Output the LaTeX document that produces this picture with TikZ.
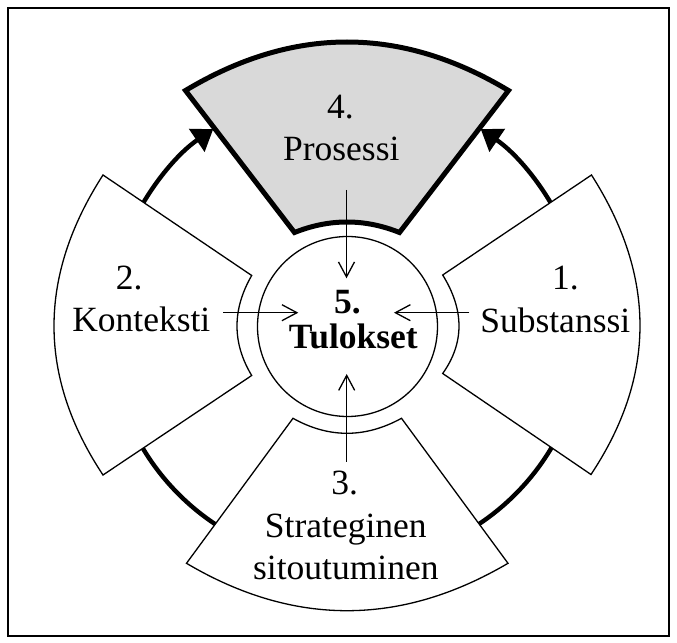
\documentclass[tikz,border=0pt]{standalone}
\usepackage{fontspec}
\setmainfont{Liberation Serif}
\usetikzlibrary{calc,arrows.meta}
\definecolor{procgray}{HTML}{D9D9D9}

% one ring segment: inner edge i1 -> im -> i2, outer edge o2 -> om -> o1
\newcommand{\sectorshape}[2]{%
  \coordinate (#2-iq) at ($2*(#2-im)-0.5*(#2-i1)-0.5*(#2-i2)$);
  \coordinate (#2-oq) at ($2*(#2-om)-0.5*(#2-o1)-0.5*(#2-o2)$);
  \draw[#1] (#2-i1) .. controls ($(#2-i1)!2/3!(#2-iq)$) and ($(#2-i2)!2/3!(#2-iq)$) .. (#2-i2)
    -- (#2-o2) .. controls ($(#2-o2)!2/3!(#2-oq)$) and ($(#2-o1)!2/3!(#2-oq)$) .. (#2-o1)
    -- cycle;
}

\tikzset{
  framebox/.style={draw=black, line width=0.75pt},
  sectorbox/.style={draw=black, fill=white, line width=0.65pt, line join=miter},
  focusbox/.style={draw=black, fill=procgray, line width=2.5pt, line join=miter},
  cycleline/.style={line width=2.2pt},
  cyclearrow/.style={cycleline, -{Triangle[length=10pt,width=13.5pt]}},
  feed/.style={line width=0.65pt, -{Straight Barb[length=7.5pt,width=8pt]}},
  lbl/.style={anchor=base, inner sep=0pt, font=\fontsize{17.75pt}{21pt}\selectfont},
  core/.style={circle, draw=black, line width=0.65pt, minimum size=90pt, inner sep=0pt},
}

\begin{document}
\begin{tikzpicture}[x=0.5pt,y=0.5pt]
\useasboundingbox (-347,-317) rectangle (330,326);

% outer frame
\draw[framebox] (-339,-310) rectangle (322,318);

% cycle ring between the segments
\draw[cyclearrow] (155:238) arc[start angle=155, end angle=124.2, radius=238];
\draw[cyclearrow] (25:238) arc[start angle=25, end angle=55.8, radius=238];
\draw[cycleline] (205:238) arc[start angle=205, end angle=245, radius=238];
\draw[cycleline] (295:238) arc[start angle=295, end angle=335, radius=238];

% left segment
\coordinate (lft-i1) at (-95.3,50.5);
\coordinate (lft-im) at (-110,0);
\coordinate (lft-i2) at (-95.3,-49.5);
\coordinate (lft-o2) at (-244,-149);
\coordinate (lft-om) at (-293,0);
\coordinate (lft-o1) at (-244,151);
\sectorshape{sectorbox}{lft}

% right segment
\coordinate (rgt-i1) at (95.7,51);
\coordinate (rgt-im) at (112,0);
\coordinate (rgt-i2) at (95.7,-47.5);
\coordinate (rgt-o2) at (244,-148.5);
\coordinate (rgt-om) at (293,0);
\coordinate (rgt-o1) at (244.5,151);
\sectorshape{sectorbox}{rgt}

% bottom segment
\coordinate (bot-i1) at (-54,-92.3);
\coordinate (bot-im) at (0,-107.3);
\coordinate (bot-i2) at (54.5,-92.3);
\coordinate (bot-o2) at (161,-237.3);
\coordinate (bot-om) at (0,-284.7);
\coordinate (bot-o1) at (-160.5,-237.3);
\sectorshape{sectorbox}{bot}

% top segment (highlighted)
\coordinate (top-i1) at (-52.5,93.5);
\coordinate (top-im) at (0,104);
\coordinate (top-i2) at (52.5,93.5);
\coordinate (top-o2) at (161.5,235.5);
\coordinate (top-om) at (0,284);
\coordinate (top-o1) at (-161.5,235.5);
\sectorshape{focusbox}{top}

% centre
\node[core] (res) at (0.5,-0.5) {};
\node[lbl] (res-num) at (0.5,12.7) {\bfseries 5.};
\node[lbl] (res-name) at (6.3,-22.3) {\bfseries Tulokset};

% segment labels
\node[lbl] (sub-num) at (218.5,36) {1.};
\node[lbl] (sub-name) at (208.3,-6.7) {Substanssi};
\node[lbl] (ctx-num) at (-217.7,36.7) {2.};
\node[lbl] (ctx-name) at (-205.7,-5.7) {Konteksti};
\node[lbl] (str-num) at (-2.3,-169) {3.};
\node[lbl] (str-name) at (-1.2,-211.3) {Strateginen};
\node[lbl] (str-name2) at (-1.2,-254) {sitoutuminen};
\node[lbl] (pro-num) at (-6.5,207.7) {4.};
\node[lbl] (pro-name) at (-5.7,165.3) {Prosessi};

% influences pointing into the centre
\coordinate (pro-from) at (-0.5,136);
\coordinate (pro-to) at (-0.5,47.7);
\coordinate (ctx-from) at (-123.7,13.3);
\coordinate (ctx-to) at (-48.7,13.3);
\coordinate (sub-from) at (122.3,13.3);
\coordinate (sub-to) at (47,13.3);
\coordinate (str-from) at (-0.3,-135.7);
\coordinate (str-to) at (-0.3,-48);
\draw[feed] (pro-from) -- (pro-to);
\draw[feed] (ctx-from) -- (ctx-to);
\draw[feed] (sub-from) -- (sub-to);
\draw[feed] (str-from) -- (str-to);
\end{tikzpicture}
\end{document}
